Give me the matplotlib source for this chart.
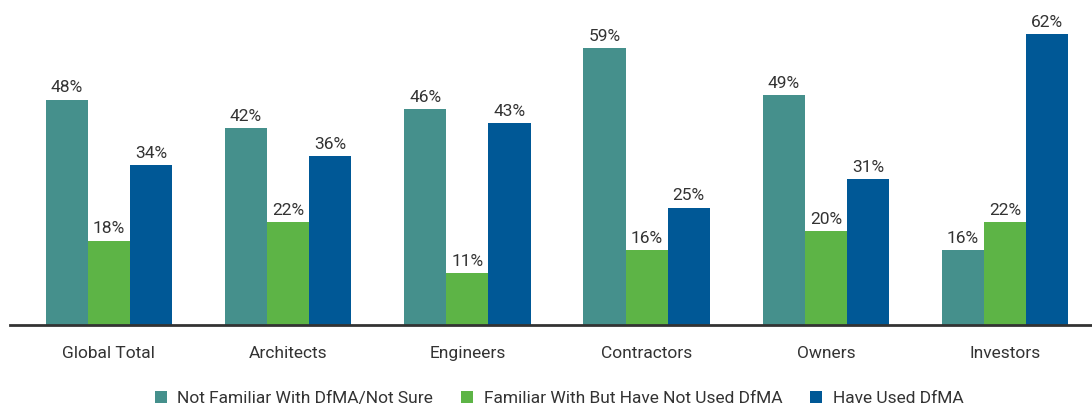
import matplotlib
matplotlib.use("Agg")
import matplotlib.pyplot as plt
import numpy as np
from matplotlib.patches import Patch

categories = ["Global Total", "Architects", "Engineers", "Contractors", "Owners", "Investors"]
series_names = ["Not Familiar With DfMA/Not Sure", "Familiar With But Have Not Used DfMA", "Have Used DfMA"]
not_familiar = [48, 42, 46, 59, 49, 16]
familiar_not_used = [18, 22, 11, 16, 20, 22]
have_used = [34, 36, 43, 25, 31, 62]
colors = ["#45908C", "#5DB446", "#005896"]

plt.rcParams['font.family'] = ['Roboto', 'DejaVu Sans']
txt = "#333333"

W, H = 1092, 405
fig = plt.figure(figsize=(W / 100, H / 100), dpi=100)
ax = fig.add_axes([10 / W, (H - 325) / H, (W - 10) / W, 325 / H])

x = np.arange(len(categories))
bw = 0.235
for k, (vals, c) in enumerate(zip([not_familiar, familiar_not_used, have_used], colors)):
    pos = x + (k - 1) * bw
    ax.bar(pos, vals, width=bw, color=c, linewidth=0)
    for p, v in zip(pos, vals):
        ax.text(p, v + 0.9, f"{v}%", ha="center", va="bottom", fontsize=12.5, color=txt)

ax.set_xlim(-0.552, 5.485)
ax.set_ylim(0, 69.24)
for s in ["top", "right", "left"]:
    ax.spines[s].set_visible(False)
ax.spines["bottom"].set_color("#333333")
ax.spines["bottom"].set_linewidth(2)
ax.set_yticks([])
ax.set_xticks(x)
ax.set_xticklabels(categories, fontsize=12.5, color=txt)
ax.tick_params(axis="x", length=0, pad=15)

handles = [Patch(facecolor=c, edgecolor="none") for c in colors]
fig.legend(handles, series_names, loc="center", bbox_to_anchor=(0.512, 0.016), ncol=3,
           frameon=False, handlelength=0.7, handleheight=0.7,
           handletextpad=0.6, columnspacing=1.6, labelcolor=txt,
           prop={"size": 12.5})

fig.savefig("out.png", dpi=100)
